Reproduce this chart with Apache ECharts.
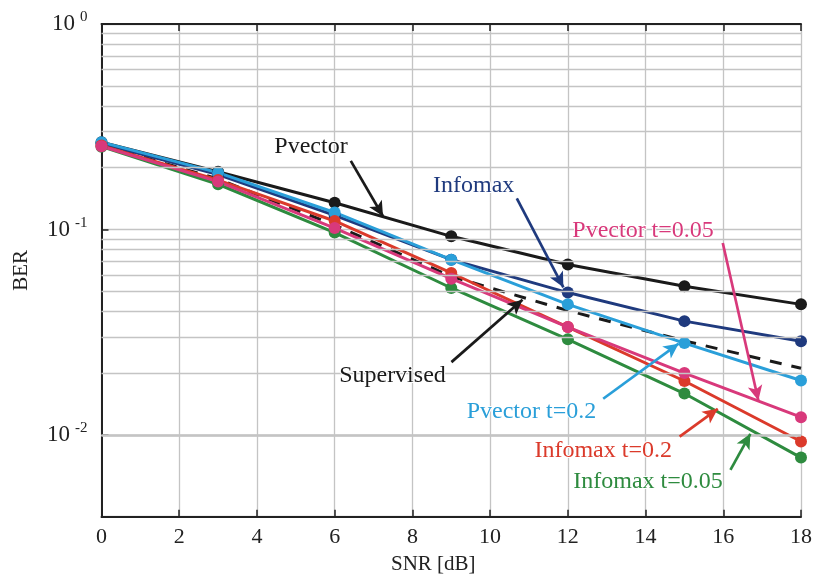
<!DOCTYPE html>
<html>
<head>
<meta charset="utf-8">
<script src="https://cdn.jsdelivr.net/npm/echarts@6/dist/echarts.min.js"></script>
<style>
  html, body { margin: 0; padding: 0; background: #fff; }
  #main { width: 815px; height: 581px; }
</style>
</head>
<body>
<div id="main"></div>
<script>
// SNR points (dB)
const snr = [0, 3, 6, 9, 12, 15, 18]

// BER values
const berPvector      = [0.266, 0.191, 0.135, 0.0926, 0.0675, 0.0529, 0.0432]
const berInfomax      = [0.262, 0.185, 0.117, 0.0713, 0.0493, 0.0358, 0.0286]
const berPvector02    = [0.266, 0.189, 0.121, 0.0713, 0.0432, 0.0280, 0.0184]
const berSupervised   = [0.258, 0.176, 0.105, 0.0591, 0.0403, 0.0287, 0.0211]
const berInfomax02    = [0.256, 0.174, 0.110, 0.0614, 0.0335, 0.0183, 0.00929]
const berPvector005   = [0.254, 0.171, 0.1016, 0.0576, 0.0335, 0.0200, 0.0122]
const berInfomax005   = [0.253, 0.166, 0.0966, 0.0519, 0.0292, 0.0159, 0.00776]

// log-axis minor grid values (2..9 per decade)
const minorGrid = [0.005, 0.006, 0.007, 0.008, 0.009,
  0.02, 0.03, 0.04, 0.05, 0.06, 0.07, 0.08, 0.09,
  0.2, 0.3, 0.4, 0.5, 0.6, 0.7, 0.8, 0.9]

// annotations: text position, arrow start, arrow end (data coords)
const notes = {
  pvector:    {text: 'Pvector',        at: [5.39, 0.2524],  from: [6.415, 0.2157], to: [7.244, 0.1159]},
  infomax:    {text: 'Infomax',        at: [9.577, 0.1642], from: [10.687, 0.1415], to: [11.885, 0.0523]},
  pvec005:    {text: 'Pvector t=0.05', at: [13.936, 0.0991], from: [15.987, 0.0859], to: [16.903, 0.01471]},
  supervised: {text: 'Supervised',     at: [7.487, 0.01948], from: [9.005, 0.02261], to: [10.833, 0.04554]},
  pvec02:     {text: 'Pvector t=0.2',  at: [11.064, 0.0130], from: [12.91, 0.0150], to: [14.851, 0.0278]},
  info02:     {text: 'Infomax t=0.2',  at: [12.91, 0.0084], from: [14.877, 0.00982], to: [15.859, 0.0134]},
  info005:    {text: 'Infomax t=0.05', at: [14.064, 0.00593], from: [16.185, 0.00676], to: [16.697, 0.01012]}
}

const FONT = 'Liberation Serif'
const INK = '#222'

function pairs(ys) {
  return snr.map((x, i) => [x, ys[i]])
}

function makeSeries(name, ys, color, note, dashed) {
  let s = {
    name: name,
    type: 'line',
    data: pairs(ys),
    symbol: dashed ? 'none' : 'circle',
    symbolSize: 12,
    lineStyle: {color: color, width: 3, type: dashed ? [12, 10] : 'solid'},
    itemStyle: {color: color},
    emphasis: {disabled: true},
    z: 3
  }
  if (note) {
    s.markLine = {
      silent: true,
      symbol: ['none', 'arrow'],
      symbolSize: [11, 15],
      label: {show: false},
      lineStyle: {color: color, width: 2.7, type: 'solid'},
      data: [[{coord: note.from}, {coord: note.to}]]
    }
    s.markPoint = {
      silent: true,
      symbol: 'circle',
      symbolSize: 1,
      itemStyle: {color: 'rgba(0,0,0,0)'},
      label: {
        show: true,
        position: 'inside',
        formatter: note.text,
        color: color,
        fontFamily: FONT,
        fontSize: 24,
        textBorderColor: '#fff',
        textBorderWidth: 2
      },
      data: [{coord: note.at}]
    }
  }
  return s
}

let chart = echarts.init(document.getElementById('main'))

let expLabel = function (v) {
  let e = Math.log10(v)
  if (Math.abs(e - Math.round(e)) > 1e-6) return ''
  return '{b|10}{s|' + Math.round(e) + '}'
}

let option = {
  animation: false,
  backgroundColor: '#fff',
  grid: {left: 101.5, right: 11.5, top: 24, bottom: 64.3},
  xAxis: [{
    type: 'value',
    min: 0, max: 18, interval: 2,
    name: 'SNR [dB]',
    nameLocation: 'middle',
    nameGap: 37,
    nameTextStyle: {fontFamily: FONT, fontSize: 21, color: INK, padding: [0, 36, 0, 0]},
    axisLine: {lineStyle: {color: INK, width: 2}},
    axisTick: {inside: true, length: 7, lineStyle: {color: INK, width: 1.5}},
    axisLabel: {fontFamily: FONT, fontSize: 22, color: INK, margin: 10},
    splitLine: {show: true, lineStyle: {color: '#c4c4c4', width: 1.3}}
  }, {
    type: 'value',
    position: 'top',
    min: 0, max: 18, interval: 2,
    axisLine: {lineStyle: {color: INK, width: 2}},
    axisTick: {inside: true, length: 7, lineStyle: {color: INK, width: 1.5}},
    axisLabel: {show: false},
    splitLine: {show: false}
  }],
  yAxis: [{
    type: 'log',
    logBase: 10,
    min: 0.004, max: 1,
    name: 'BER',
    nameLocation: 'middle',
    nameGap: 70,
    nameTextStyle: {fontFamily: FONT, fontSize: 21, color: INK},
    axisLine: {show: true, lineStyle: {color: INK, width: 2}},
    axisTick: {inside: true, length: 7, lineStyle: {color: INK, width: 1.5}},
    axisLabel: {
      formatter: expLabel,
      margin: 14,
      rich: {
        b: {fontFamily: FONT, fontSize: 23, color: INK},
        s: {fontFamily: FONT, fontSize: 15, color: INK, padding: [0, 0, 13, 5]}
      }
    },
    splitLine: {show: true, lineStyle: {color: '#c4c4c4', width: 1.3}}
  }, {
    type: 'log',
    logBase: 10,
    min: 0.004, max: 1,
    position: 'right',
    axisLine: {show: true, lineStyle: {color: INK, width: 2}},
    axisTick: {show: false},
    axisLabel: {show: false},
    splitLine: {show: false}
  }],
  series: [
    {
      name: 'grid',
      type: 'line',
      data: [],
      markLine: {
        silent: true,
        symbol: 'none',
        label: {show: false},
        lineStyle: {color: '#c4c4c4', width: 1.3, type: 'solid'},
        data: minorGrid.map(v => ({yAxis: v}))
      },
      z: 1
    },
    makeSeries('Pvector', berPvector, '#1a1a1a', notes.pvector),
    makeSeries('Supervised', berSupervised, '#1a1a1a', notes.supervised, true),
    makeSeries('Infomax', berInfomax, '#1f3a7e', notes.infomax),
    makeSeries('Pvector t=0.2', berPvector02, '#2a9fd9', notes.pvec02),
    makeSeries('Infomax t=0.05', berInfomax005, '#2e8b3f', notes.info005),
    makeSeries('Infomax t=0.2', berInfomax02, '#db3a2b', notes.info02),
    makeSeries('Pvector t=0.05', berPvector005, '#d8397b', notes.pvec005)
  ]
}

chart.setOption(option)
</script>
</body>
</html>
